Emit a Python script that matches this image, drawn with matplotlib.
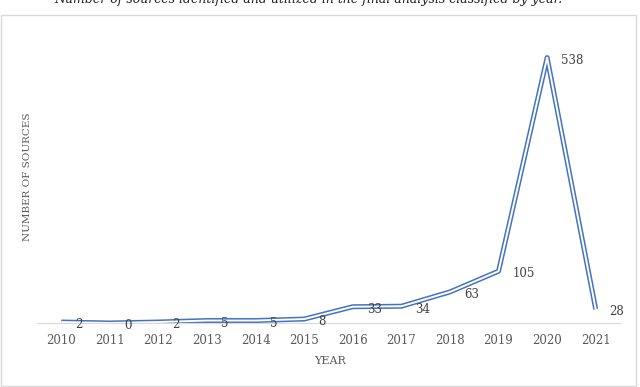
import matplotlib.pyplot as plt
from matplotlib.patches import Rectangle

years = ['2010', '2011', '2012', '2013', '2014', '2015',
         '2016', '2017', '2018', '2019', '2020', '2021']
sources = [2, 0, 2, 5, 5, 8, 33, 34, 63, 105, 538, 28]

W, H = 640, 387
fig = plt.figure(figsize=(W / 100, H / 100), dpi=100)
plt.rcParams['font.family'] = ['DejaVu Serif']

# chart frame
fig.patches.append(Rectangle((1 / W, 1 / H), 635 / W, 371 / H, transform=fig.transFigure,
                             fill=False, edgecolor='#D9D9D9', linewidth=1))

# caption cut off at the top of the picture
fig.text(562 / W, 1 - 3 / H, 'Number of sources identified and utilized in the final analysis classified by year.',
         ha='right', va='baseline', fontsize=9, style='italic', color='#222222')

ax = fig.add_axes([37 / W, 1 - 323 / H, 583 / W, 296 / H])
x = range(len(years))
# double line: blue outline with white core
ax.plot(x, sources, color='#4472C4', linewidth=3.6, solid_joinstyle='round', solid_capstyle='butt')
ax.plot(x, sources, color='white', linewidth=1.4, solid_joinstyle='round', solid_capstyle='butt')

for i, v in enumerate(sources):
    ax.annotate(str(v), (i, v), xytext=(10, -2), textcoords='offset points',
                ha='left', va='center', fontsize=8.5, color='#404040')

ax.set_xlim(-0.5, len(years) - 0.5)
ax.set_ylim(0, 600)
ax.set_xticks(list(x))
ax.set_xticklabels(years, fontsize=8.5, color='#595959')
ax.set_yticks([])
ax.tick_params(axis='x', length=0, pad=8)
for s in ['top', 'right', 'left']:
    ax.spines[s].set_visible(False)
ax.spines['bottom'].set_color('#D9D9D9')
ax.spines['bottom'].set_linewidth(0.8)
ax.set_facecolor('none')

fig.text(330 / W, 1 - 361 / H, 'YEAR', ha='center', va='center', fontsize=8, color='#595959')
fig.text(28 / W, 1 - 177 / H, 'NUMBER OF SOURCES', ha='center', va='center', rotation=90,
         fontsize=7.5, color='#595959')

fig.savefig('out.png', dpi=100)
